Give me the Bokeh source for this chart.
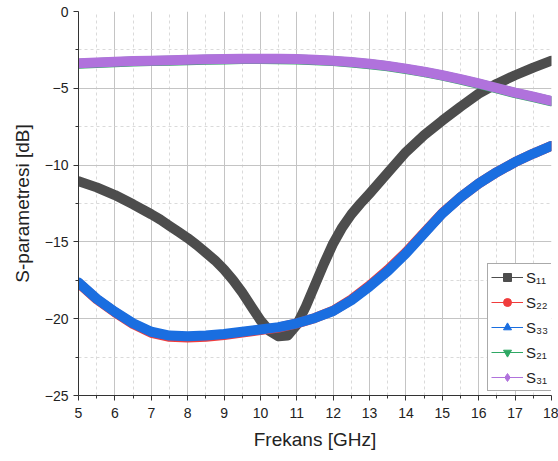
from bokeh.plotting import figure
from bokeh.models import Range1d, FixedTicker, Legend, LegendItem, ColumnDataSource
from bokeh.embed import file_html
from bokeh.resources import INLINE

# Frequency grids (GHz)
freq = [5.0, 5.5, 6.0, 6.5, 7.0, 7.5, 8.0, 8.5, 9.0, 9.5, 10.0, 10.5, 11.0, 11.5,
        12.0, 12.5, 13.0, 13.5, 14.0, 14.5, 15.0, 15.5, 16.0, 16.5, 17.0, 17.5, 18.0]
freq_s11 = [5.0, 5.5, 6.0, 6.5, 7.0, 7.25, 7.5, 7.75, 8.0, 8.25, 8.5, 8.75, 9.0,
            9.25, 9.5, 9.75, 10.0, 10.25, 10.5, 10.75, 11.0, 11.25, 11.5, 11.75,
            12.0, 12.25, 12.5, 12.75, 13.0, 13.5, 14.0, 14.5, 15.0, 15.5, 16.0,
            16.5, 17.0, 17.5, 18.0]

# S-parameters (dB)
s11 = [-11.05, -11.45, -11.95, -12.55, -13.2, -13.55, -13.95, -14.35, -14.75,
       -15.2, -15.7, -16.2, -16.8, -17.5, -18.3, -19.2, -20.1, -20.8, -21.15,
       -21.1, -20.4, -19.2, -17.8, -16.4, -15.1, -14.05, -13.2, -12.5, -11.85,
       -10.5, -9.15, -8.05, -7.1, -6.2, -5.35, -4.7, -4.15, -3.65, -3.2]
s22 = [-17.68, -18.73, -19.58, -20.35, -20.92, -21.18, -21.23, -21.18, -21.06, -20.9,
       -20.74, -20.58, -20.31, -19.95, -19.48, -18.75, -17.84, -16.82, -15.68, -14.4,
       -13.12, -12.09, -11.2, -10.45, -9.8, -9.25, -8.75]
s33 = [-17.65, -18.7, -19.55, -20.3, -20.85, -21.1, -21.15, -21.1, -21.0, -20.85,
       -20.7, -20.55, -20.3, -19.95, -19.5, -18.8, -17.9, -16.9, -15.75, -14.45,
       -13.15, -12.1, -11.2, -10.45, -9.8, -9.25, -8.75]
s21 = [-3.4, -3.35, -3.3, -3.26, -3.23, -3.2, -3.17, -3.14, -3.12, -3.1,
       -3.1, -3.11, -3.13, -3.17, -3.23, -3.32, -3.43, -3.57, -3.75, -3.95,
       -4.18, -4.43, -4.71, -5.01, -5.31, -5.58, -5.85]
s31 = [-3.37, -3.32, -3.27, -3.23, -3.2, -3.17, -3.14, -3.11, -3.09, -3.07,
       -3.07, -3.08, -3.1, -3.14, -3.2, -3.29, -3.4, -3.54, -3.72, -3.92,
       -4.15, -4.4, -4.68, -4.98, -5.28, -5.55, -5.82]

x_ticks = list(range(5, 19))
x_minor = [t + 0.5 for t in range(5, 18)]
y_ticks = [0, -5, -10, -15, -20, -25]
y_minor = [-2.5, -7.5, -12.5, -17.5, -22.5]

FONT = "Liberation Sans"

p = figure(width=558, height=461, output_backend="svg", toolbar_location=None,
           x_range=Range1d(5, 18), y_range=Range1d(-25, 0),
           min_border_left=78, min_border_right=7, min_border_top=11,
           min_border_bottom=66)
p.outline_line_color = None
p.background_fill_color = "white"
p.border_fill_color = "white"

# axes
for ax, ticks, minor in ((p.xaxis[0], x_ticks, x_minor), (p.yaxis[0], y_ticks, y_minor)):
    ax.ticker = FixedTicker(ticks=ticks, minor_ticks=minor)
    ax.axis_line_color = "#333333"
    ax.major_tick_line_color = "#333333"
    ax.minor_tick_line_color = "#333333"
    ax.major_tick_out = 5
    ax.major_tick_in = 0
    ax.minor_tick_out = 3
    ax.minor_tick_in = 0
    ax.major_label_text_font = FONT
    ax.major_label_text_font_size = "14px"
    ax.major_label_text_color = "#222222"
    ax.axis_label_text_font = FONT
    ax.axis_label_text_font_size = "19px"
    ax.axis_label_text_font_style = "normal"
    ax.axis_label_text_color = "#222222"

p.xaxis.axis_label = "Frekans [GHz]"
p.yaxis.axis_label = "S-parametresi [dB]"
p.xaxis.major_label_standoff = 7
p.yaxis.major_label_standoff = 5
p.xaxis.axis_label_standoff = 8
p.yaxis.axis_label_standoff = 9
p.yaxis.major_label_overrides = {t: ("\u2212" + str(-t) if t < 0 else str(t)) for t in y_ticks}

# grid
for g, ticks, minor in ((p.xgrid[0], x_ticks, x_minor), (p.ygrid[0], y_ticks, y_minor)):
    g.ticker = FixedTicker(ticks=ticks, minor_ticks=minor)
    g.grid_line_color = "#c4c4c4"
    g.grid_line_width = 1
    g.minor_grid_line_color = "#dadada"
    g.minor_grid_line_dash = "3 3"

series = [
    ("S\u2081\u2081", freq_s11, s11, "#4d4d4d", "square"),
    ("S\u2082\u2082", freq, s22, "#f03c3c", "circle"),
    ("S\u2083\u2083", freq, s33, "#1a6ee0", "triangle"),
    ("S\u2082\u2081", freq, s21, "#2fa864", "inverted_triangle"),
    ("S\u2083\u2081", freq, s31, "#b072dc", "diamond"),
]

# thick traces
for label, xs, ys, color, marker in series:
    p.line(xs, ys, line_color=color, line_width=10, line_join="round", line_cap="round")

# legend keys: thin line with a marker (sources hold a single NaN point)
nan = float("nan")
items = []
for label, xs, ys, color, marker in series:
    key_src = ColumnDataSource(data=dict(x=[nan], y=[nan]))
    ln = p.line("x", "y", source=key_src, line_color=color, line_width=1)
    mk = p.scatter("x", "y", source=key_src, marker=marker, size=10,
                   fill_color=color, line_color=color)
    items.append(LegendItem(label=label, renderers=[ln, mk]))

legend = Legend(items=items, location=(409, 4), orientation="vertical",
                border_line_color="#555555", border_line_width=1,
                background_fill_color="white", background_fill_alpha=1.0,
                glyph_width=32, glyph_height=20, label_height=20,
                label_standoff=3, padding=3, spacing=5, margin=0,
                label_text_font=FONT, label_text_font_size="15px",
                label_text_color="#222222")
p.add_layout(legend, "center")

open("out.html", "w").write(file_html(p, INLINE))
